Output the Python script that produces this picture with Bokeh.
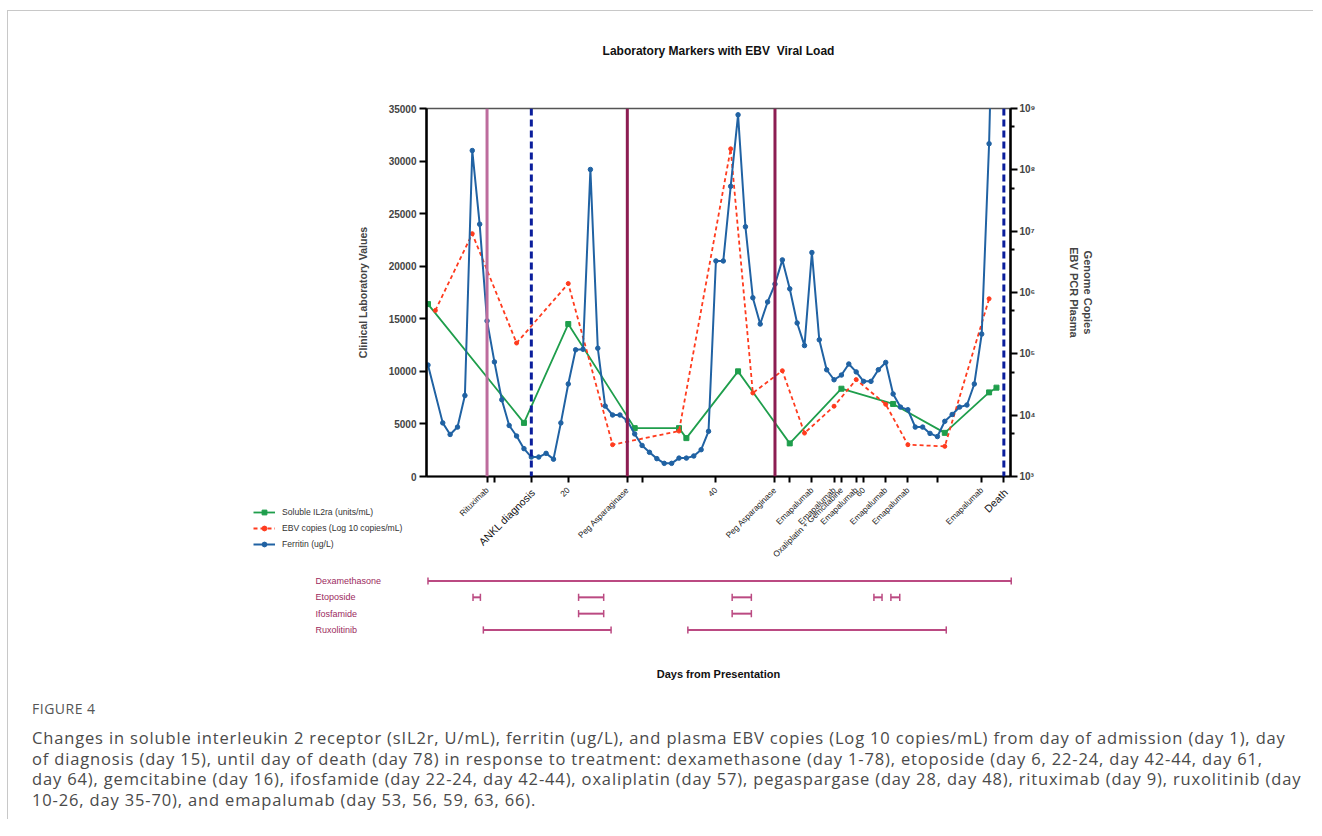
import math
from bokeh.plotting import figure
from bokeh.models import (Range1d, LinearAxis, LogAxis, LogScale, FixedTicker,
                          Span, Legend, LegendItem, Div)
from bokeh.embed import file_html
from bokeh.resources import INLINE
from bokeh.core.properties import value

# ---------------- data ----------------
TITLE = "Laboratory Markers with EBV\u00a0 Viral Load"

ferritin_days = [1, 3, 4, 5, 6, 7, 8, 9, 10, 11, 12, 13, 14, 15, 16, 17, 18, 19, 20,
                 21, 22, 23, 24, 25, 26, 27, 28, 29, 30, 31, 32, 33, 34, 35, 36, 37, 38,
                 39, 40, 41, 42, 43, 44, 45, 46, 47, 48, 49, 50, 51, 52, 53, 54, 55, 56,
                 57, 58, 59, 60, 61, 62, 63, 64, 65, 66, 67, 68, 69, 70, 71, 72, 73, 74,
                 75, 76, 77, 78]
ferritin_vals = [10600, 5100, 4000, 4700, 7700, 31000, 24000, 14800, 10900, 7300, 4850,
                 3850, 2650, 1850, 1850, 2200, 1650, 5100, 8800, 12050, 12100, 29200,
                 12200, 6700, 5850, 5850, 5300, 4050, 2950, 2300, 1700, 1250, 1250, 1750,
                 1750, 1950, 2550, 4300, 20500, 20500, 27600, 34400, 23750, 17000, 14500,
                 16600, 18300, 20600, 17850, 14600, 12450, 21300, 13000, 10150, 9200, 9650,
                 10700, 9950, 9050, 9050, 10150, 10850, 7850, 6600, 6350, 4700, 4700, 4100,
                 3800, 5250, 5900, 6600, 6800, 8800, 13550, 31650, 60000]

sil2r_days = [1, 14, 20, 29, 35, 36, 43, 50, 57, 64, 71, 77, 78]
sil2r_vals = [16400, 5100, 14500, 4600, 4600, 3650, 10000, 3150, 8350, 6900, 4150, 8000, 8450]

ebv_days = [2, 7, 13, 20, 26, 35, 42, 45, 49, 52, 56, 59, 63, 66, 71, 77]
ebv_vals = [5.1e5, 9.1e6, 1.5e5, 1.4e6, 3.3e3, 5.5e3, 2.2e8, 2.3e4, 5.3e4, 5.1e3,
            1.4e4, 3.8e4, 1.5e4, 3.3e3, 3.1e3, 7.9e5]

event_days = [9, 15, 28, 48, 79]
event_kinds = ["rituximab", "diagnosis", "peg", "peg", "death"]

x_tick_days = [9, 10, 15, 20, 28, 30, 40, 48, 50, 53, 56, 57, 59, 60, 63, 66, 70, 76, 79]
x_tick_labels = ["Rituximab", "", "", "20", "Peg Asparaginase", "", "40", "Peg Asparaginase",
                 "", "Emapalumab", "Emapalumab", "Oxaliplatin + Gemcitabine", "Emapalumab",
                 "60", "Emapalumab", "Emapalumab", "", "Emapalumab", ""]
big_label_days = [15, 79]
big_labels = ["ANKL diagnosis", "Death"]

left_ticks = [0, 5000, 10000, 15000, 20000, 25000, 30000, 35000]
right_ticks = [10**3, 10**4, 10**5, 10**6, 10**7, 10**8, 10**9]
right_tick_labels = ["10³", "10⁴", "10⁵", "10⁶", "10⁷", "10⁸", "10⁹"]
right_minor = [5 * 10**3, 5 * 10**4, 5 * 10**5, 5 * 10**6, 5 * 10**7, 5 * 10**8]

legend_labels = ["Soluble IL2ra (units/mL)", "EBV copies (Log 10 copies/mL)", "Ferritin (ug/L)"]

treatments = ["Dexamethasone", "Etoposide", "Ifosfamide", "Ruxolitinib"]
tr_name = ["Dexamethasone", "Etoposide", "Etoposide", "Etoposide", "Etoposide", "Etoposide",
           "Ifosfamide", "Ifosfamide", "Ruxolitinib", "Ruxolitinib"]
tr_start = [1, 7.1, 21.4, 42.2, 61.4, 63.7, 21.4, 42.2, 8.5, 36.2]
tr_end = [80, 8.1, 24.8, 44.8, 62.5, 64.9, 24.8, 44.8, 25.8, 71.2]

caption_head = "FIGURE 4"
caption_lines = [
    "Changes in soluble interleukin 2 receptor (sIL2r, U/mL), ferritin (ug/L), and plasma EBV copies (Log 10 copies/mL) from day of admission (day 1), day",
    "of diagnosis (day 15), until day of death (day 78) in response to treatment: dexamethasone (day 1-78), etoposide (day 6, 22-24, day 42-44, day 61,",
    "day 64), gemcitabine (day 16), ifosfamide (day 22-24, day 42-44), oxaliplatin (day 57), pegaspargase (day 28, day 48), rituximab (day 9), ruxolitinib (day",
    "10-26, day 35-70), and emapalumab (day 53, 56, 59, 63, 66).",
]

# ---------------- style / layout constants ----------------
FONT = "Liberation Sans"
BLUE = "#2062a3"
GREEN = "#1f9e4c"
RED = "#ff3b1e"
NAVY = "#0b1e9c"
MAROON = "#8c1d52"
PINK = "#bd6c9d"
TLC = "#bb4a82"
TL_TEXT = "#9c2a5e"
BORDER = "1px solid #c8c8c8"
NAN = float("nan")

PAGE_X, PAGE_Y = 8, 11            # page position of the chart canvas
W = 1306
H1 = 561
MB_L, MB_R, MB_T, MB_B = 418, 304, 97, 96
X0, X1 = 0.8, 79.9
Y0, Y1 = 0, 35000
frame_w = W - MB_L - MB_R
ppd = frame_w / (X1 - X0)
CHART_BOTTOM = 700                # page y where the chart block ends

# ---------------- main chart ----------------
p = figure(width=W, height=H1, x_range=Range1d(X0, X1), y_range=Range1d(Y0, Y1),
           output_backend="svg", toolbar_location=None,
           min_border_left=MB_L, min_border_right=MB_R, min_border_top=MB_T,
           min_border_bottom=MB_B, x_axis_location=None, y_axis_location=None,
           margin=(PAGE_Y - 1, 0, 0, PAGE_X - 1),
           styles={"border-top": BORDER, "border-left": BORDER})
p.grid.visible = False
p.outline_line_color = "#555555"
p.outline_line_width = 1.5
p.extra_y_ranges = {"ebv": Range1d(1e3, 1e9)}
p.extra_y_scales = {"ebv": LogScale()}

xaxis = LinearAxis(ticker=FixedTicker(ticks=x_tick_days, minor_ticks=[]),
                   major_label_overrides=dict(zip(x_tick_days, x_tick_labels)),
                   major_label_orientation=math.pi / 4,
                   major_label_text_font=FONT, major_label_text_font_size="8.3px",
                   major_label_text_color="#222222",
                   axis_line_width=2.2, major_tick_line_width=2, major_tick_out=6,
                   major_tick_in=0, major_label_standoff=6)
p.add_layout(xaxis, "below")

yaxis = LinearAxis(ticker=FixedTicker(ticks=left_ticks, minor_ticks=[]),
                   axis_label="Clinical Laboratory Values",
                   axis_label_text_font=FONT, axis_label_text_font_style="bold",
                   axis_label_text_font_size="10.5px", axis_label_standoff=17,
                   major_label_text_font=FONT, major_label_text_font_style="bold",
                   major_label_text_font_size="10px",
                   axis_line_width=2.5, major_tick_line_width=2.2, major_tick_out=7,
                   major_tick_in=0, major_label_standoff=3)
p.add_layout(yaxis, "left")

raxis = LogAxis(y_range_name="ebv",
                ticker=FixedTicker(ticks=right_ticks, minor_ticks=right_minor),
                major_label_overrides=dict(zip(right_ticks, right_tick_labels)),
                axis_label="Genome Copies\nEBV PCR Plasma",
                axis_label_text_font=FONT, axis_label_text_font_style="bold",
                axis_label_text_font_size="11px", axis_label_standoff=29,
                major_label_text_font=FONT, major_label_text_font_style="bold",
                major_label_text_font_size="10px",
                axis_line_width=2.5, major_tick_line_width=2, major_tick_out=7,
                major_tick_in=0, minor_tick_line_width=2, minor_tick_out=4,
                minor_tick_in=0, major_label_standoff=2)
p.add_layout(raxis, "right")

for d, k in zip(event_days, event_kinds):
    if k == "rituximab":
        sp = Span(location=d, dimension="height", line_color=PINK, line_width=3)
    elif k == "peg":
        sp = Span(location=d, dimension="height", line_color=MAROON, line_width=3)
    else:
        sp = Span(location=d, dimension="height", line_color=NAVY, line_width=3,
                  line_dash="7 4")
    p.add_layout(sp)

p.line(sil2r_days, sil2r_vals, line_color=GREEN, line_width=1.8)
p.scatter(sil2r_days, sil2r_vals, marker="square", size=5, color=GREEN)
p.line(ebv_days, ebv_vals, y_range_name="ebv", line_color=RED, line_width=1.8,
       line_dash="4 3")
p.scatter(ebv_days, ebv_vals, y_range_name="ebv", marker="circle", size=4, color=RED)
p.line(ferritin_days, ferritin_vals, line_color=BLUE, line_width=2)
p.scatter(ferritin_days, ferritin_vals, marker="circle", size=4.5, color=BLUE)

# ---------------- overlay: title, legend, big labels, treatment timeline ----------------
# Same day scale as the main chart, y measured in page pixels (top = PAGE_Y).
OV_H = CHART_BOTTOM - PAGE_Y
ov = figure(width=W, height=OV_H,
            x_range=Range1d(X0 - MB_L / ppd, X1 + MB_R / ppd),
            y_range=Range1d(CHART_BOTTOM, PAGE_Y),
            output_backend="svg", toolbar_location=None, min_border=0,
            x_axis_location=None, y_axis_location=None,
            styles={"position": "absolute", "left": f"{PAGE_X}px", "top": f"{PAGE_Y}px"})
ov.grid.visible = False
ov.outline_line_color = None
ov.background_fill_alpha = 0
ov.border_fill_alpha = 0

ov.text(x=[(X0 + X1) / 2], y=[50], text=[TITLE], text_font=value(FONT),
        text_font_style="bold", text_font_size="12px", text_color="#111111",
        text_align="center", text_baseline="middle")

ov.text(x=[d + 0.25 for d in big_label_days], y=[490] * len(big_label_days),
        text=big_labels, angle=math.pi / 4, text_font=value(FONT),
        text_font_size="10.5px", text_color="#111111",
        text_align="right", text_baseline="middle")

# legend: style-only renderers (a single NaN point, nothing drawn); data live in the chart
lg_g = ov.line([NAN], [NAN], line_color=GREEN, line_width=1.8)
lg_gp = ov.scatter([NAN], [NAN], marker="square", size=5, color=GREEN)
lg_r = ov.line([NAN], [NAN], line_color=RED, line_width=1.8, line_dash="4 3")
lg_rp = ov.scatter([NAN], [NAN], marker="circle", size=4, color=RED)
lg_b = ov.line([NAN], [NAN], line_color=BLUE, line_width=2)
lg_bp = ov.scatter([NAN], [NAN], marker="circle", size=4.5, color=BLUE)
legend = Legend(items=[LegendItem(label=legend_labels[0], renderers=[lg_g, lg_gp]),
                       LegendItem(label=legend_labels[1], renderers=[lg_r, lg_rp]),
                       LegendItem(label=legend_labels[2], renderers=[lg_b, lg_bp])],
                location=(253 - PAGE_X, CHART_BOTTOM - 550), orientation="vertical",
                padding=0, margin=0, spacing=4, label_height=12, glyph_height=12,
                glyph_width=22, label_standoff=7, label_text_font=FONT,
                label_text_font_size="8.6px", label_text_color="#333333",
                border_line_alpha=0, background_fill_alpha=0)
ov.add_layout(legend)

# treatment timeline
ROW0, ROW_PITCH = 580.5, 16.33
rows = [ROW0 + ROW_PITCH * treatments.index(n) for n in tr_name]
cap = 3.6
ov.segment(x0=tr_start, y0=rows, x1=tr_end, y1=rows, line_color=TLC, line_width=2)
ov.segment(x0=tr_start, y0=[r - cap for r in rows], x1=tr_start, y1=[r + cap for r in rows],
           line_color=TLC, line_width=1.5)
ov.segment(x0=tr_end, y0=[r - cap for r in rows], x1=tr_end, y1=[r + cap for r in rows],
           line_color=TLC, line_width=1.5)

label_x = X0 - 111 / ppd
ov.text(x=[label_x] * len(treatments),
        y=[ROW0 + ROW_PITCH * i for i in range(len(treatments))], text=treatments,
        text_font=value(FONT), text_font_size="9px", text_color=TL_TEXT,
        text_baseline="middle", text_align="left")

ov.text(x=[(X0 + X1) / 2], y=[673], text=["Days from Presentation"], text_font=value(FONT),
        text_font_style="bold", text_font_size="11px", text_color="#111111",
        text_align="center", text_baseline="middle")

# ---------------- caption ----------------
GAP = CHART_BOTTOM - (PAGE_Y + H1)
cap_html = (
    f'<div style="font-family:\'Open Sans\', sans-serif; color:#4a4a4a; padding-left:24px; padding-top:{GAP}px;">'
    '<div style="font-size:14px; line-height:18px; letter-spacing:0.5px; color:#555; margin-top:1px;">'
    + caption_head + '</div>'
    '<div style="font-size:16.5px; line-height:20.7px; letter-spacing:0.85px; margin-top:10px; white-space:nowrap;">'
    + "<br>".join(caption_lines) + '</div></div>'
)
div = Div(text=cap_html, width=W, height=GAP + 120, margin=(0, 0, 0, PAGE_X - 1),
          styles={"border-left": BORDER})

open("out.html", "w").write(file_html([p, div, ov], INLINE))
